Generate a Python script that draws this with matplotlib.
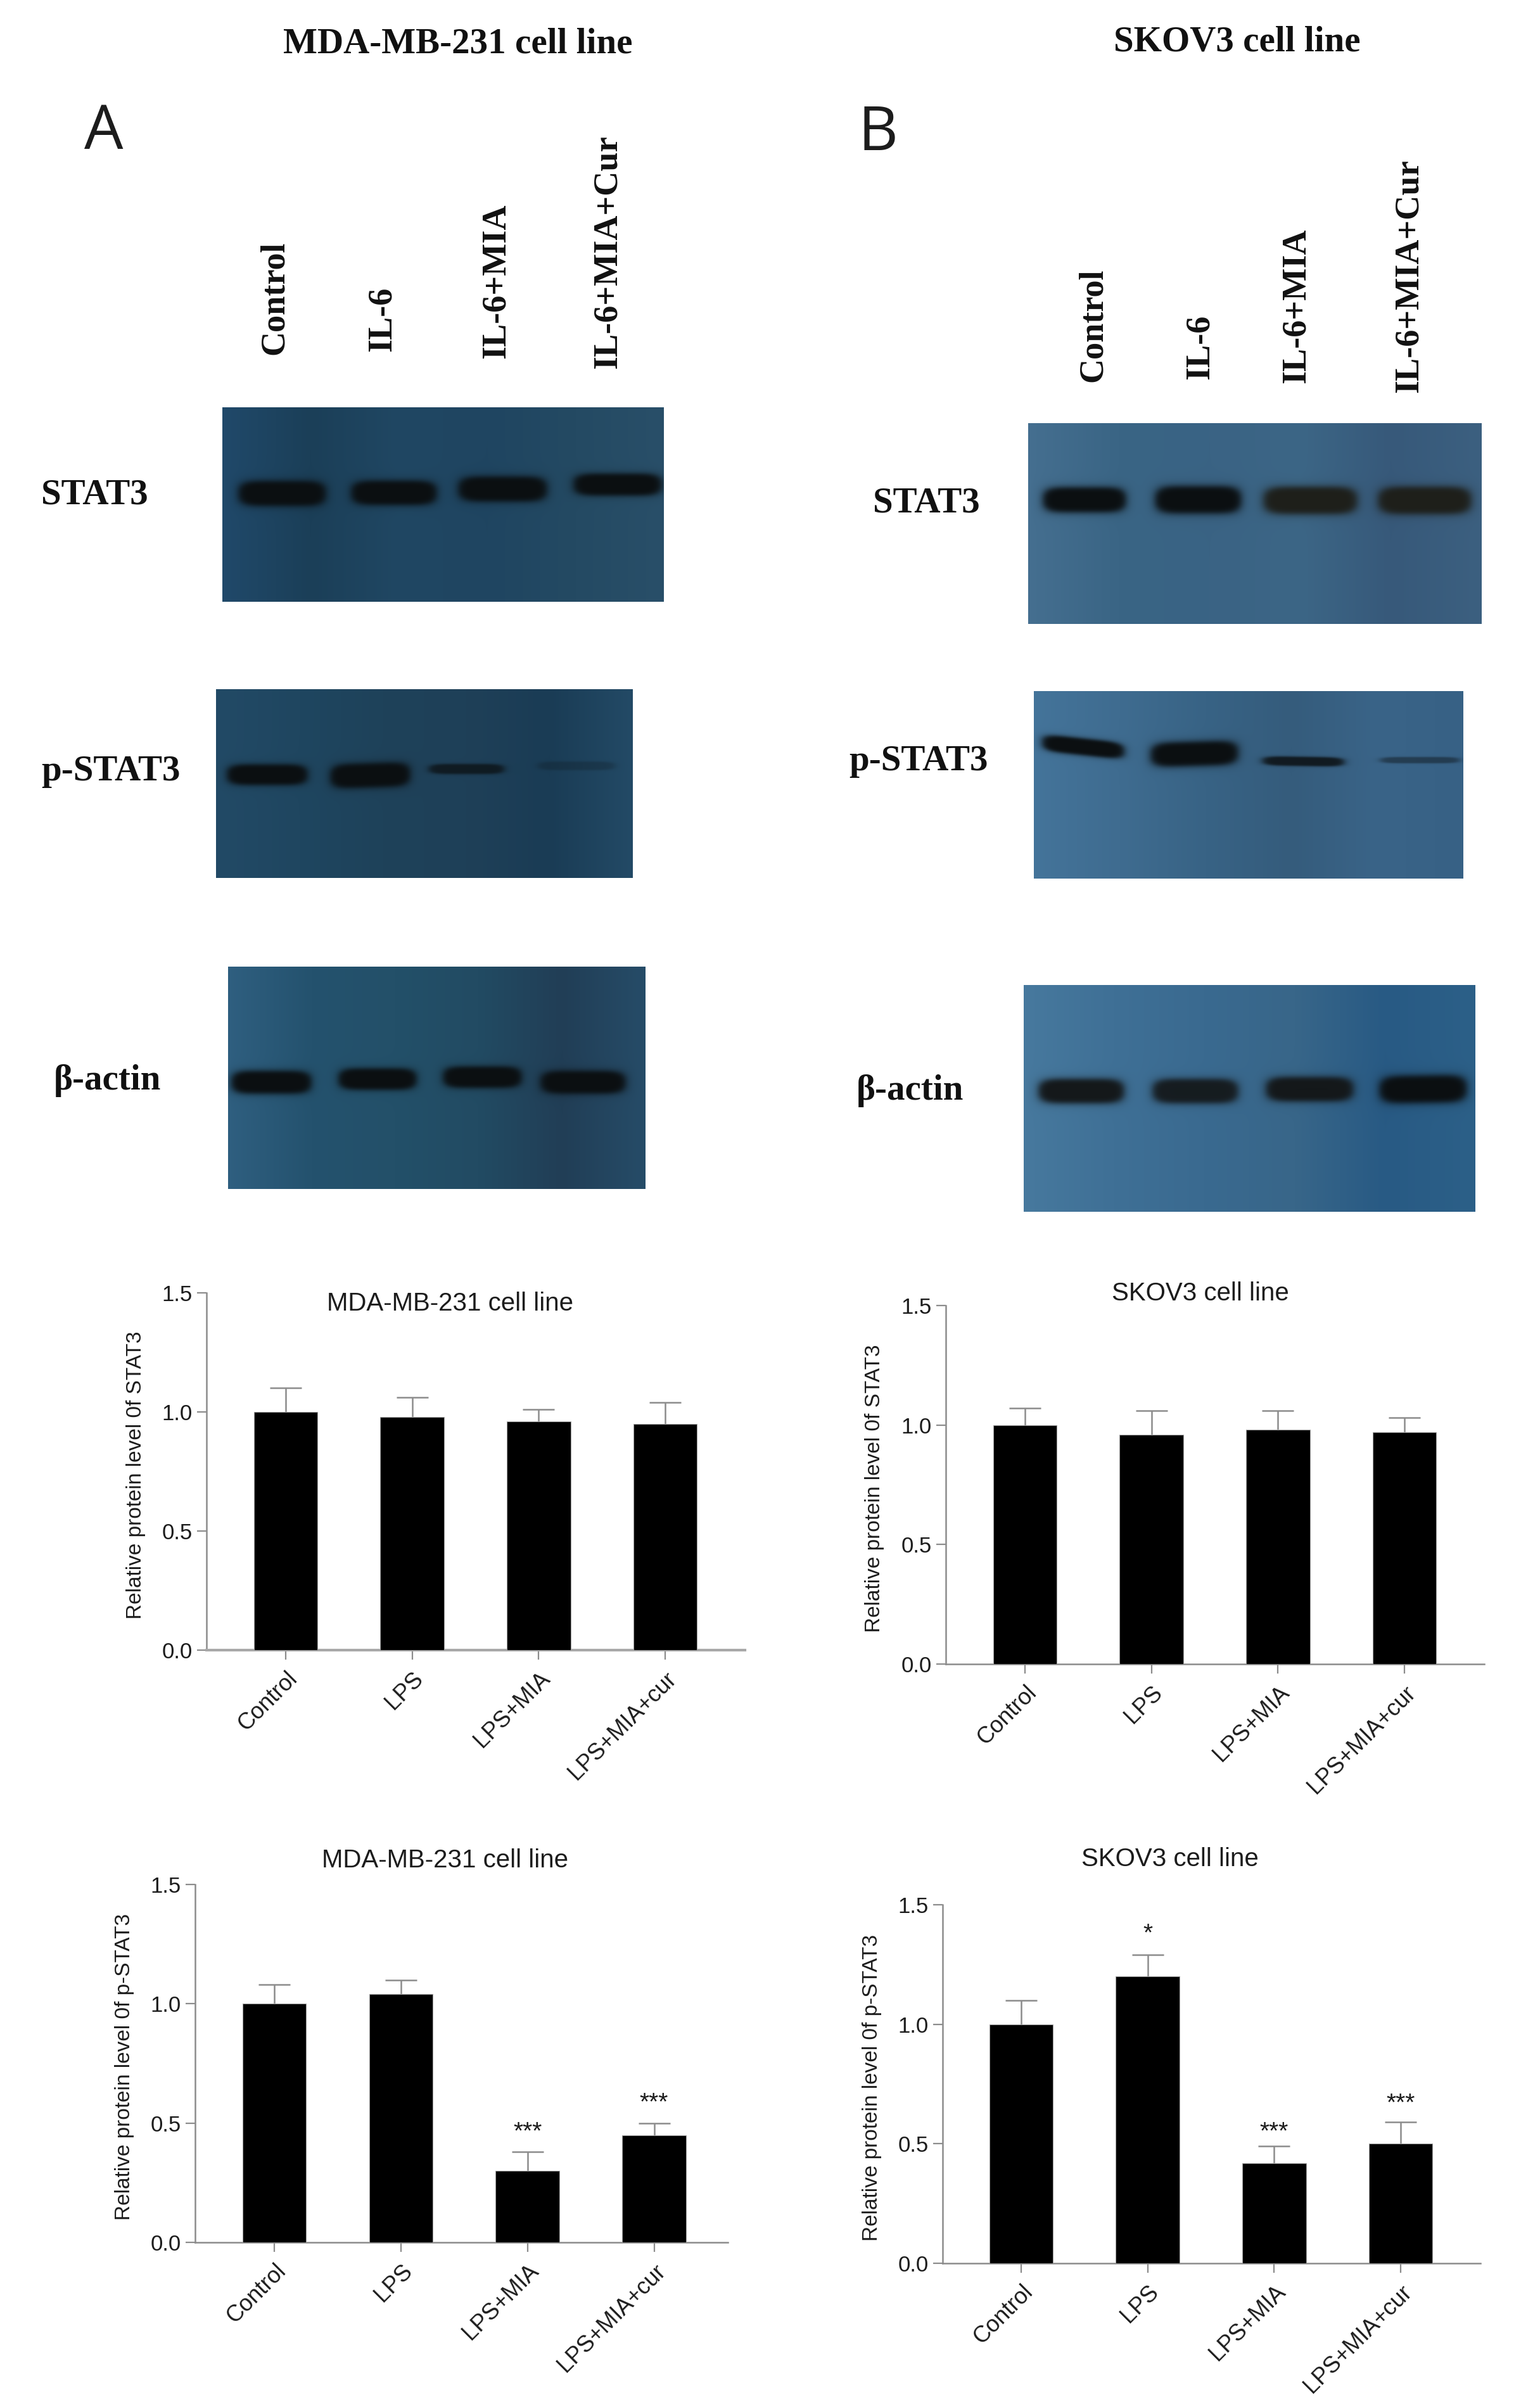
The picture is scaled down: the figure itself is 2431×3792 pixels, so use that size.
import numpy as np
import matplotlib
matplotlib.use('Agg')
import matplotlib.pyplot as plt
from matplotlib.colors import to_rgb
from matplotlib.transforms import ScaledTranslation

# bar chart values
bar_labels = ['Control', 'LPS', 'LPS+MIA', 'LPS+MIA+cur']
lane_labels = ['Control', 'IL-6', 'IL-6+MIA', 'IL-6+MIA+Cur']

stat3_mda = [1.00, 0.98, 0.96, 0.95]
stat3_mda_top = [1.10, 1.06, 1.01, 1.04]
pstat3_mda = [1.00, 1.04, 0.30, 0.45]
pstat3_mda_top = [1.08, 1.10, 0.38, 0.50]
stat3_skov = [1.00, 0.96, 0.98, 0.97]
stat3_skov_top = [1.07, 1.06, 1.06, 1.03]
pstat3_skov = [1.00, 1.20, 0.42, 0.50]
pstat3_skov_top = [1.10, 1.29, 0.49, 0.59]

# significance marks, (bar index, text, height on the y axis)
pstat3_mda_stars = [(2, '***', 0.472), (3, '***', 0.593)]
pstat3_skov_stars = [(1, '*', 1.387), (2, '***', 0.559), (3, '***', 0.678)]

# band strength per lane, read by eye from the blots
band_a_stat3 = [1.0, 1.0, 1.0, 1.0]
band_a_pstat3 = [1.0, 1.0, 0.75, 0.25]
band_a_actin = [1.0, 1.0, 1.0, 1.0]
band_b_stat3 = [1.0, 1.0, 1.0, 1.0]
band_b_pstat3 = [1.0, 1.0, 0.85, 0.45]
band_b_actin = [1.0, 0.95, 1.0, 1.0]

W, H = 2431, 3792
GREY = '#8c8c8c'
DARK = '#1c1c1c'
SANS = 'Liberation Sans'
SERIF = 'Liberation Serif'
BAND_DARK = '#0b0f11'
BAND_BROWN = '#1e1f1a'
BAND_SOFT = '#14181a'

fig = plt.figure(figsize=(W / 100, H / 100), dpi=100, facecolor='white')

# whole page axes in reference pixels, for blots and loose text
page = fig.add_axes([0, 0, 1, 1])
page.axis('off')


def draw_blot(box, shades, strength, bands, colors=None):
    x0, x1, y0, y1 = box
    xs = np.arange(x0, x1) + 0.5
    ys = np.arange(y0, y1) + 0.5
    gx, gy = np.meshgrid(xs, ys)
    pos = np.linspace(x0, x1, len(shades))
    rgb = np.array([to_rgb(c) for c in shades])
    img = np.stack([np.interp(gx, pos, rgb[:, i]) for i in range(3)], axis=-1)
    if colors is None:
        colors = [BAND_DARK] * len(bands)
    for s, c, (bx0, bx1, by, bh, tilt) in zip(strength, colors, bands):
        cx = (bx0 + bx1) / 2
        hw = (bx1 - bx0) / 2
        dy = gy - by - tilt * (gx - cx) / hw
        d = (np.abs(gx - cx) / hw) ** 6 + (np.abs(dy) / (bh * 0.62)) ** 2.5
        a = s / (1 + d ** 3)
        img = img * (1 - a[..., None]) + np.array(to_rgb(c)) * a[..., None]
    page.imshow(img, extent=(x0, x1, y1, y0), aspect='auto', interpolation='bilinear', zorder=1)


draw_blot((351, 1048, 643, 950),
          ['#20496a', '#1b3f58', '#204763', '#1f4561', '#244a63', '#294f69'], band_a_stat3,
          [(376, 515, 779, 33, 0), (554, 690, 778, 32, 0), (723, 864, 772, 33, 0), (905, 1045, 765, 29, 0)])
draw_blot((341, 999, 1088, 1386),
          ['#224a66', '#1f4660', '#1f425a', '#1f4058', '#1a3c55', '#234a66'], band_a_pstat3,
          [(358, 486, 1223, 27, 0), (521, 648, 1224, 32, -2), (677, 796, 1214, 13, 0), (849, 971, 1209, 11, 0)])
draw_blot((360, 1019, 1527, 1877),
          ['#2f5f80', '#24526e', '#235069', '#224b63', '#213e56', '#264c68'], band_a_actin,
          [(365, 492, 1709, 30, 0), (534, 658, 1704, 28, 0), (699, 824, 1701, 28, 0), (853, 988, 1709, 30, 0)])
draw_blot((1623, 2339, 668, 985),
          ['#456f90', '#3a6585', '#3a6384', '#3c6686', '#37597a', '#3c6080'], band_b_stat3,
          [(1646, 1778, 789, 33, 0), (1823, 1960, 789, 36, 0), (1994, 2143, 790, 36, 0), (2175, 2323, 790, 36, 0)],
          [BAND_DARK, BAND_DARK, BAND_BROWN, BAND_BROWN])
draw_blot((1632, 2310, 1091, 1387),
          ['#44749a', '#3f6c90', '#386385', '#355c7c', '#3a6488', '#376185'], band_b_pstat3,
          [(1645, 1775, 1179, 22, 7), (1816, 1955, 1190, 32, -2), (1993, 2122, 1202, 12, 1), (2179, 2304, 1200, 8, 0)])
draw_blot((1616, 2329, 1556, 1913),
          ['#47799e', '#3f7096', '#3a6a90', '#386689', '#285a84', '#2c6088'], band_b_actin,
          [(1639, 1775, 1723, 32, 0), (1819, 1955, 1723, 32, 0), (1998, 2137, 1720, 32, 0), (2177, 2316, 1720, 36, -1)],
          [BAND_SOFT, BAND_SOFT, BAND_SOFT, BAND_DARK])

page.set_xlim(0, W)
page.set_ylim(H, 0)

# panel letters and titles
page.text(133, 235, 'A', family='Open Sans', fontsize=70, color=DARK, ha='left', va='baseline')
page.text(1355, 237, 'B', family='Open Sans', fontsize=70, color=DARK, ha='left', va='baseline')
page.text(723, 69, 'MDA-MB-231 cell line', family=SERIF, weight='bold', fontsize=41, ha='center', va='center', color='#111111')
page.text(1953, 66, 'SKOV3 cell line', family=SERIF, weight='bold', fontsize=41, ha='center', va='center', color='#111111')

# lane names over the blots
lane_x_a = [434, 604, 784, 960]
lane_y_a = [560, 555, 566, 582]
lane_x_b = [1726, 1895, 2047, 2225]
lane_y_b = [603, 599, 605, 620]
for name, xa, ya, xb, yb in zip(lane_labels, lane_x_a, lane_y_a, lane_x_b, lane_y_b):
    page.text(xa, ya, name, family=SERIF, weight='bold', fontsize=39, rotation=90, ha='center', va='bottom', color='#111111')
    page.text(xb, yb, name, family=SERIF, weight='bold', fontsize=39, rotation=90, ha='center', va='bottom', color='#111111')

# protein names left of the blots
for txt, x, y in [('STAT3', 65, 781), ('p-STAT3', 65, 1218), ('β-actin', 85, 1706),
                  ('STAT3', 1378, 794), ('p-STAT3', 1340, 1202), ('β-actin', 1352, 1722)]:
    page.text(x, y, txt, family=SERIF, weight='bold', fontsize=41, ha='left', va='center', color='#111111')


def draw_bars(left, right, top, bottom, centers, means, tops, title, title_xy, ylabel, ylabel_x, stars=(), base_lw=1.8, base_color=GREY):
    ax = fig.add_axes([left / W, 1 - bottom / H, (right - left) / W, (bottom - top) / H], facecolor='none')
    step = (centers[-1] - centers[0]) / 3
    x = np.arange(4)
    ax.bar(x, means, width=100.5 / step, color='black', edgecolor='#a0a0a0', linewidth=0.8, zorder=3)
    ax.vlines(x, means, tops, color=GREY, linewidth=1.8, zorder=2)
    ax.hlines(tops, x - 25 / step, x + 25 / step, color=GREY, linewidth=1.8, zorder=2)
    ax.set_xlim((left - centers[0]) / step, (right - centers[0]) / step)
    ax.set_ylim(0, 1.5)
    ax.set_yticks([0, 0.5, 1.0, 1.5])
    ax.set_yticklabels(['0.0', '0.5', '1.0', '1.5'], family=SANS, fontsize=25, color=DARK)
    ax.set_xticks(x)
    ax.set_xticklabels(bar_labels, family=SANS, fontsize=26, color=DARK, rotation=45, ha='right', va='top', rotation_mode='anchor')
    # labels sit a little left of the ticks in the original
    shift = ScaledTranslation(-6 / 100, 0, fig.dpi_scale_trans)
    for lab in ax.get_xticklabels():
        lab.set_transform(lab.get_transform() + shift)
    ax.tick_params(axis='x', length=11, width=1.6, color=GREY, pad=9)
    ax.tick_params(axis='y', length=11, width=1.6, color=GREY, pad=5)
    for side in ['top', 'right']:
        ax.spines[side].set_visible(False)
    ax.spines['left'].set_color(GREY)
    ax.spines['left'].set_linewidth(1.8)
    ax.spines['bottom'].set_color(base_color)
    ax.spines['bottom'].set_linewidth(base_lw)
    ax.set_ylabel(ylabel, family=SANS, fontsize=24, color=DARK, va='center')
    ax.yaxis.set_label_coords((ylabel_x - left) / (right - left), 0.49)
    for i, mark, y in stars:
        ax.text(i, y, mark, family=SANS, fontsize=28, color=DARK, ha='center', va='center_baseline')
    page.text(title_xy[0], title_xy[1], title, family=SANS, fontsize=29, color=DARK, ha='center', va='center')
    return ax


draw_bars(326, 1176, 2041, 2605, [451, 651, 850.5, 1050], stat3_mda, stat3_mda_top,
          'MDA-MB-231 cell line', (711, 2058), 'Relative protein level 0f STAT3', 214,
          base_lw=3, base_color='#a8a8a8')
draw_bars(308, 1149, 2975, 3540, [433, 633, 833, 1032.5], pstat3_mda, pstat3_mda_top,
          'MDA-MB-231 cell line', (703, 2937), 'Relative protein level 0f p-STAT3', 197, pstat3_mda_stars)
draw_bars(1493, 2343, 2061, 2627, [1618, 1818, 2017, 2217], stat3_skov, stat3_skov_top,
          'SKOV3 cell line', (1895, 2042), 'Relative protein level 0f STAT3', 1381)
draw_bars(1488, 2337, 3007, 3573, [1612, 1812, 2012, 2211], pstat3_skov, pstat3_skov_top,
          'SKOV3 cell line', (1847, 2935), 'Relative protein level 0f p-STAT3', 1377, pstat3_skov_stars)

fig.savefig('out.png', dpi=100)
